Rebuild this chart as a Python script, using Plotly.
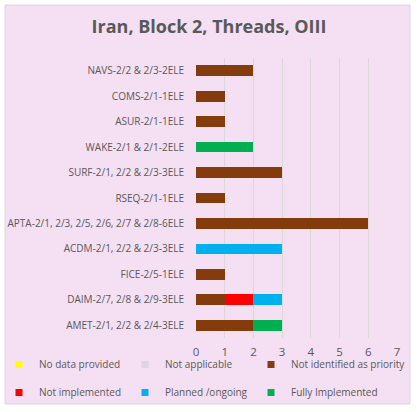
import plotly.graph_objects as go

categories = [
    "NAVS-2/2 & 2/3-2ELE",
    "COMS-2/1-1ELE",
    "ASUR-2/1-1ELE",
    "WAKE-2/1 & 2/1-2ELE",
    "SURF-2/1, 2/2 & 2/3-3ELE",
    "RSEQ-2/1-1ELE",
    "APTA-2/1, 2/3, 2/5, 2/6, 2/7 & 2/8-6ELE",
    "ACDM-2/1, 2/2 & 2/3-3ELE",
    "FICE-2/5-1ELE",
    "DAIM-2/7, 2/8 & 2/9-3ELE",
    "AMET-2/1, 2/2 & 2/4-3ELE",
]
no_data = [0, 0, 0, 0, 0, 0, 0, 0, 0, 0, 0]
not_applicable = [0, 0, 0, 0, 0, 0, 0, 0, 0, 0, 0]
not_priority = [2, 1, 1, 0, 3, 1, 6, 0, 1, 1, 2]
not_implemented = [0, 0, 0, 0, 0, 0, 0, 0, 0, 1, 0]
planned = [0, 0, 0, 0, 0, 0, 0, 3, 0, 1, 0]
fully = [0, 0, 0, 2, 0, 0, 0, 0, 0, 0, 1]
x_ticks = [0, 1, 2, 3, 4, 5, 6, 7]

series = [
    ("No data provided", no_data, "#FFFF00"),
    ("Not applicable", not_applicable, "#D9D9D9"),
    ("Not identified as priority", not_priority, "#843C0C"),
    ("Not implemented", not_implemented, "#FF0000"),
    ("Planned /ongoing", planned, "#00B0F0"),
    ("Fully Implemented", fully, "#00B050"),
]

L, R, T, B = 196, 21, 58, 74
W, H = 418, 412
pw, ph = W - L - R, H - T - B

def px_x(p):
    return (p - L) / pw

def px_y(p):
    return (H - B - p) / ph

# legend slot positions (text start x, box top y) in pixels
legend_slots = [(35, 350), (161, 350), (287, 350), (35, 378), (161, 378), (287, 378)]

fig = go.Figure()
for name, vals, color in series:
    fig.add_trace(go.Bar(
        y=categories, x=vals, orientation="h", name=name,
        marker=dict(color=color, line=dict(width=0)),
        showlegend=False, hoverinfo="x+name",
    ))

gray = "#595959"
legend_layouts = {}
for i, (name, vals, color) in enumerate(series):
    key = "legend" if i == 0 else f"legend{i + 1}"
    fig.add_trace(go.Scatter(
        x=[None], y=[None], mode="markers", name=name,
        marker=dict(symbol="square", size=7, color=color),
        legend=key, showlegend=True,
    ))
    tx, ty = legend_slots[i]
    legend_layouts[key] = dict(
        orientation="h", x=px_x(tx - 36), y=px_y(ty), xanchor="left", yanchor="top",
        bgcolor="rgba(0,0,0,0)", font=dict(size=10, color=gray), itemwidth=30,
    )

fig.add_shape(type="rect", xref="paper", yref="paper",
              x0=px_x(5), x1=px_x(410), y0=px_y(404), y1=px_y(5),
              fillcolor="#F5DFF2", line=dict(color="#D9D9D9", width=1),
              layer="below")

fig.update_layout(
    width=W, height=H,
    margin=dict(l=L, r=R, t=T, b=B, autoexpand=False),
    paper_bgcolor="white",
    plot_bgcolor="rgba(0,0,0,0)",
    barmode="stack",
    bargap=0.58,
    title=dict(text="<b>Iran, Block 2, Threads, OIII</b>", x=0.5, xref="container",
               xanchor="center", y=1 - 27 / H, yanchor="middle",
               font=dict(family="Open Sans", size=18, color=gray)),
    font=dict(family="Open Sans", color=gray),
    xaxis=dict(range=[0, 7], tickvals=x_ticks, showgrid=True, gridcolor="#D9D9D9",
               gridwidth=1, zeroline=False, showline=False,
               ticks="outside", ticklen=3, tickcolor="rgba(0,0,0,0)",
               tickfont=dict(size=11.5, color=gray), fixedrange=True),
    yaxis=dict(categoryorder="array", categoryarray=categories[::-1],
               autorange=False, range=[-0.5, 10.5],
               showgrid=False, zeroline=False, showline=False,
               ticks="outside", ticklen=9, tickcolor="rgba(0,0,0,0)",
               tickfont=dict(size=10, color=gray)),
    **legend_layouts,
)

fig.write_html("out.html", post_script="document.body.style.margin='0';",
               config={"displayModeBar": False})
